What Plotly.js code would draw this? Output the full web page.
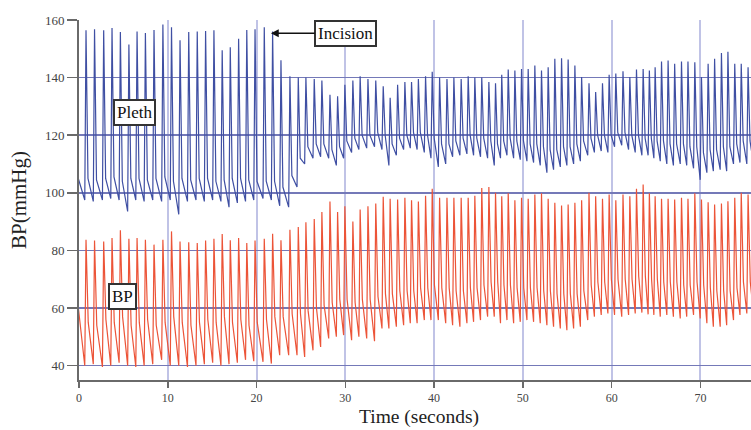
<!DOCTYPE html>
<html>
<head>
<meta charset="utf-8">
<script src="https://cdn.plot.ly/plotly-3.0.1.min.js"></script>
<style>
  html, body { margin: 0; padding: 0; background: #ffffff; }
  #chart { width: 751px; height: 430px; }
</style>
</head>
<body>
<div id="chart"></div>
<script>
// ---- Data (one entry per heart beat) ----
// time (s) of each systolic peak
const beatTimes = [
  -0.50, 0.79, 1.75, 2.78, 3.72, 4.66, 5.62, 6.54, 7.48, 8.45, 9.45, 10.42, 11.38, 12.36, 13.32, 14.26, 15.20, 16.13, 17.04, 17.98, 18.90, 19.83,
  20.87, 21.81, 22.75, 23.76, 24.70, 25.56, 26.50, 27.36, 28.27, 29.13, 29.95, 30.85, 31.67, 32.55, 33.43, 34.27, 35.05, 35.89, 36.71, 37.46, 38.23, 39.04, 39.79, 40.62, 41.45, 42.23, 43.05, 43.84, 44.59, 45.37, 46.17, 46.92, 47.62,
  48.35, 49.10, 49.85, 50.60, 51.35, 52.10, 52.85, 53.60, 54.36, 55.10, 55.86, 56.62, 57.45, 58.20, 58.97, 59.72, 60.47, 61.28, 62.05, 62.80, 63.55, 64.25, 64.90, 65.62, 66.36, 67.10, 67.87, 68.60, 69.37, 70.12, 70.87, 71.60, 72.37, 73.10, 73.87, 74.60, 75.37, 76.12
];

// Pleth (mmHg)
const plethPeak = [
  150, 156.4, 156.8, 156.4, 157.2, 155.8, 151.5, 156.0, 155.5, 156.5, 158.4, 157.5, 153.0, 155.8, 156.0, 156.2, 156.4, 149.5, 150.5, 153.5, 156.5, 156.8,
  157.5, 156.0, 146.0, 140.5, 140.0, 140.0, 139.5, 139.0, 134.0, 133.5, 137.5, 139.0, 140.5, 139.5, 139.0, 137.0, 133.0, 137.5, 138.5, 138.5, 139.5, 140.5, 142.0, 140.0, 139.5, 140.0, 139.5, 140.5, 140.0, 140.0, 138.5, 138.0, 141.0,
  142.8, 142.5, 143.0, 143.0, 144.2, 142.5, 143.6, 146.5, 146.7, 146.3, 144.2, 140.2, 138.0, 135.0, 138.0, 141.0, 141.4, 142.2, 140.2, 142.8, 143.0, 142.5, 143.6, 145.6, 145.9, 144.8, 145.6, 145.6, 145.3, 140.2, 144.8, 146.5, 148.5, 149.0, 144.8, 144.8, 143.6, 143.0
];
const plethFoot = [
  100, 97.5, 97.0, 97.5, 98.0, 97.5, 93.5, 97.5, 97.0, 97.5, 97.0, 97.5, 92.5, 97.0, 97.5, 97.0, 97.5, 97.0, 95.0, 96.5, 97.0, 97.5,
  98.0, 97.5, 95.5, 95.0, 102.0, 110.0, 112.0, 112.5, 112.0, 109.5, 112.0, 114.0, 115.0, 115.5, 116.0, 115.0, 109.5, 113.0, 115.0, 115.5, 115.0, 114.0, 112.0, 109.0, 110.0, 112.5, 113.0, 113.5, 113.0, 112.5, 112.0, 109.5, 112.0,
  113.0, 112.0, 111.5, 111.0, 110.5, 109.5, 107.0, 108.0, 109.0, 109.5, 110.0, 111.0, 113.0, 114.0, 114.5, 114.0, 116.0, 116.5, 115.0, 114.0, 113.0, 113.0, 112.0, 111.0, 110.0, 109.5, 110.0, 109.5, 108.5, 104.5, 107.0, 107.5, 108.0, 107.5, 110.0, 110.5, 110.0, 110.0
];
const plethNotch = [
  107, 105, 104.5, 105, 105.5, 104, 105, 105, 104.5, 105, 105.5, 104, 105, 104.5, 105, 105, 104, 104.5, 105, 105, 104.5, 104,
  104, 104, 102, 106, 112, 116, 117, 117, 115, 116, 118, 119, 120, 120, 121, 120, 117, 119, 120, 121, 121, 120, 119, 117, 117, 118, 119, 120, 119, 119, 118, 117, 118,
  119, 118, 118, 117, 117, 116, 115, 115, 116, 116, 117, 118, 119, 120, 120, 120, 121, 121, 120, 120, 119, 119, 118, 118, 117, 117, 117, 116, 116, 114, 115, 115, 116, 116, 117, 118, 118, 118
];

// BP (mmHg)
const bpPeak = [
  80, 83.7, 83.4, 83.1, 84.3, 87.0, 84.0, 84.3, 83.7, 82.0, 83.7, 86.6, 83.1, 82.8, 82.6, 83.4, 84.0, 85.7, 83.5, 84.3, 82.6, 83.4,
  84.0, 85.8, 83.5, 87.2, 88.1, 89.8, 90.9, 93.3, 97.0, 93.3, 95.3, 90.0, 94.2, 95.3, 96.3, 98.6, 97.9, 97.7, 98.3, 97.4, 97.0, 99.0, 101.4, 98.3, 98.3, 98.3, 98.3, 98.3, 99.0, 101.7, 102.0, 100.0, 98.8,
  99.8, 97.4, 98.3, 97.9, 99.4, 99.8, 97.9, 96.5, 95.6, 95.9, 96.5, 97.4, 100.0, 98.8, 97.9, 99.4, 97.4, 99.4, 98.8, 101.4, 102.9, 99.8, 98.8, 97.9, 97.9, 97.7, 98.3, 97.9, 99.8, 97.7, 96.7, 95.9, 96.3, 97.1, 98.3, 100.0, 99.4, 99.0
];
const bpFoot = [
  45, 40.0, 40.5, 39.5, 40.0, 41.0, 40.0, 39.5, 40.0, 40.5, 42.0, 40.0, 40.0, 39.5, 40.0, 40.5, 41.0, 40.0, 40.5, 41.0, 42.0, 41.5,
  41.3, 40.7, 43.6, 43.6, 43.6, 43.0, 45.3, 46.5, 49.4, 50.0, 50.6, 48.8, 50.0, 49.4, 48.5, 52.9, 52.9, 53.5, 54.0, 54.7, 54.7, 55.8, 55.8, 55.8, 54.7, 54.0, 53.5, 54.7, 55.2, 55.8, 57.0, 57.0, 54.7,
  55.8, 54.7, 55.2, 55.8, 55.2, 54.7, 54.0, 53.5, 52.9, 52.3, 52.9, 53.5, 55.8, 57.0, 57.6, 58.1, 57.6, 57.0, 57.6, 58.1, 58.4, 57.8, 57.6, 57.0, 57.6, 57.0, 56.4, 57.0, 57.6, 56.4, 54.7, 53.5, 53.5, 54.0, 55.8, 57.6, 58.1, 58.1
];
const bpNotch = [
  65, 55, 54, 56, 55, 57, 54, 55, 56, 54, 55, 57, 55, 54, 55, 56, 55, 57, 55, 56, 54, 55,
  56, 57, 57, 58, 58, 59, 60, 61, 62, 63, 63, 62, 63, 63, 64, 65, 65, 66, 66, 66, 67, 67, 68, 67, 67, 66, 66, 67, 67, 68, 69, 69, 68,
  68, 67, 67, 67, 67, 66, 66, 65, 65, 65, 65, 66, 68, 69, 69, 70, 70, 70, 70, 71, 71, 70, 70, 69, 69, 69, 68, 68, 69, 68, 67, 66, 66, 66, 67, 69, 69, 69
];

const yTickVals = [40, 60, 80, 100, 120, 140, 160];
const xTickVals = [0, 10, 20, 30, 40, 50, 60, 70];

// ---- Build the polyline: foot -> systolic peak -> notch for each beat ----
function buildWave(times, foot, peak, notch, rise, fall) {
  const xs = [], ys = [];
  for (let i = 0; i < times.length; i++) {
    xs.push(times[i] - rise, times[i], times[i] + fall);
    ys.push(foot[i], peak[i], notch[i]);
  }
  return { x: xs, y: ys };
}

const pleth = buildWave(beatTimes, plethFoot, plethPeak, plethNotch, 0.14, 0.22);
const bp = buildWave(beatTimes, bpFoot, bpPeak, bpNotch, 0.14, 0.25);

const serif = 'Liberation Serif, Times New Roman, serif';

const traces = [
  { type: 'scatter', mode: 'lines', x: bp.x, y: bp.y, name: 'BP',
    line: { color: '#ec5438', width: 1.2 }, hoverinfo: 'skip' },
  { type: 'scatter', mode: 'lines', x: pleth.x, y: pleth.y, name: 'Pleth',
    line: { color: '#3f4fa3', width: 1.2 }, hoverinfo: 'skip' }
];

const boxStyle = {
  font: { family: serif, size: 17, color: '#111' },
  bgcolor: '#ffffff', bordercolor: '#333', borderwidth: 2, borderpad: 2
};

const annotations = [
  Object.assign({ x: 6.3, y: 127.8, xref: 'x', yref: 'y', text: 'Pleth', showarrow: false }, boxStyle),
  Object.assign({ x: 4.95, y: 64.0, xref: 'x', yref: 'y', text: 'BP', showarrow: false }, boxStyle),
  Object.assign({ x: 21.62, y: 155.4, xref: 'x', yref: 'y', ax: 30.0, ay: 155.4, axref: 'x', ayref: 'y',
    text: 'Incision', showarrow: true, arrowhead: 2, arrowsize: 1.2, arrowwidth: 1.3, arrowcolor: '#111' }, boxStyle),
  // x-axis title (placed as an annotation so it sits clear of the tick labels)
  { xref: 'paper', yref: 'paper', x: 0.506, y: -0.1014, xanchor: 'center', yanchor: 'middle',
    text: 'Time (seconds)', showarrow: false, borderpad: 0, font: { family: serif, size: 19.5, color: '#222' } }
];

const layout = {
  width: 751, height: 430,
  margin: { l: 79, r: 0, t: 20, b: 50 },
  paper_bgcolor: '#ffffff', plot_bgcolor: '#ffffff',
  showlegend: false,
  xaxis: {
    range: [0, 75.7], tickvals: xTickVals, ticktext: xTickVals.map(String),
    showgrid: true, gridcolor: '#c0c3e6', gridwidth: 2, zeroline: false,
    showline: true, linecolor: '#6a6a6a', linewidth: 2,
    ticks: 'outside', ticklen: 6, tickwidth: 1.5, tickcolor: '#6a6a6a',
    tickfont: { family: serif, size: 12, color: '#444' }
  },
  yaxis: {
    range: [35, 160], tickvals: yTickVals, ticktext: yTickVals.map(String),
    showgrid: true, gridcolor: '#7479b8', gridwidth: 1.5, zeroline: false,
    showline: true, linecolor: '#6a6a6a', linewidth: 2,
    ticks: 'outside', ticklen: 10, tickwidth: 1.5, tickcolor: '#6a6a6a',
    tickfont: { family: serif, size: 13, color: '#444' },
    title: { text: 'BP(mmHg)', font: { family: serif, size: 21, color: '#222' } }
  },
  annotations: annotations
};

Plotly.newPlot('chart', traces, layout, { staticPlot: true, displayModeBar: false });
</script>
</body>
</html>
